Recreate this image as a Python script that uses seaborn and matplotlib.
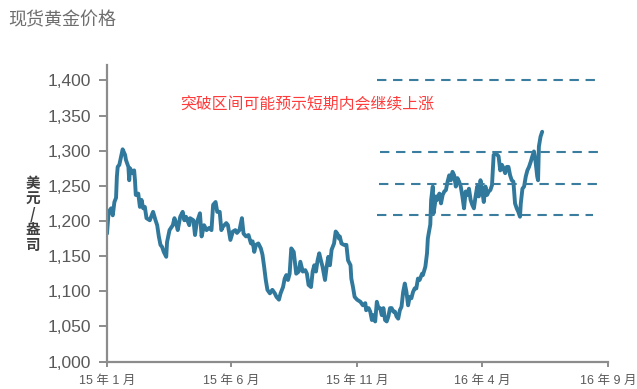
import numpy as np
import pandas as pd
import matplotlib
matplotlib.use("Agg")
import matplotlib.pyplot as plt
import matplotlib.dates as mdates
import seaborn as sns

# Spot gold, USD per ounce; days counted from 2015-01-01
start_date = "2015-01-01"
day_offset = [
    0, 2, 5, 7, 9, 11, 12, 13, 15, 17, 19, 22, 23, 26, 27, 28, 31, 33, 34, 35,
    38, 40, 42, 44, 46, 48, 52, 56, 59, 61, 63, 65, 67, 69, 72, 73, 76, 80, 82, 84,
    86, 89, 92, 94, 96, 100, 101, 105, 107, 109, 113, 115, 118, 121, 124, 127, 129, 132, 134, 137,
    139, 141, 145, 147, 150, 153, 156, 158, 161, 164, 166, 169, 172, 175, 177, 179, 181, 184, 187, 189,
    191, 193, 195, 198, 201, 204, 206, 209, 211, 214, 216, 218, 220, 222, 224, 227, 230, 233, 235, 238,
    241, 243, 245, 248, 250, 252, 254, 256, 258, 260, 262, 265, 267, 269, 271, 273, 276, 278, 280, 282,
    283, 285, 288, 291, 293, 296, 297, 299, 301, 304, 308, 311, 314, 315, 318, 320, 322, 324, 326, 328,
    330, 332, 334, 336, 338, 340, 342, 344, 346, 348, 350, 352, 354, 356, 358, 360, 362, 364, 366, 368,
    370, 372, 374, 376, 378, 380, 383, 384, 387, 389, 390, 391, 393, 394, 396, 397, 400, 401, 404, 406,
    408, 410, 412, 414, 416, 418, 420, 422, 424, 426, 428, 430, 432, 434, 436, 438, 440, 442, 444, 446,
    448, 450, 452, 454, 456, 458, 460, 462, 464, 466, 468, 470, 473, 476, 478, 480, 482, 484, 486, 488,
    490, 492, 494, 496, 498, 500, 502, 503, 505, 507, 509, 511, 513, 515, 517, 519, 521, 523, 524, 525,
    527, 529,
]
gold_price = [
    1182, 1213, 1218, 1208, 1227, 1233, 1263, 1277, 1280, 1291, 1302, 1294, 1287, 1277, 1258, 1275, 1268, 1272, 1258, 1237,
    1239, 1220, 1230, 1218, 1220, 1204, 1201, 1213, 1201, 1194, 1178, 1166, 1163, 1156, 1149, 1170, 1187, 1194, 1204, 1197,
    1187, 1206, 1213, 1201, 1206, 1194, 1204, 1201, 1180, 1197, 1211, 1178, 1194, 1187, 1190, 1187, 1223, 1227, 1213, 1213,
    1187, 1192, 1197, 1194, 1173, 1185, 1187, 1183, 1187, 1204, 1182, 1178, 1180, 1168, 1171, 1156, 1166, 1168, 1161, 1152,
    1135, 1116, 1102, 1097, 1102, 1097, 1092, 1088, 1097, 1106, 1118, 1123, 1116, 1125, 1161, 1156, 1125, 1128, 1142, 1128,
    1130, 1125, 1109, 1106, 1128, 1137, 1128, 1144, 1154, 1144, 1135, 1116, 1135, 1149, 1137, 1159, 1168, 1185, 1182, 1175,
    1178, 1168, 1166, 1166, 1144, 1137, 1118, 1106, 1092, 1088, 1085, 1080, 1083, 1073, 1076, 1071, 1059, 1066, 1057, 1085,
    1076, 1076, 1066, 1076, 1059, 1057, 1064, 1076, 1076, 1071, 1071, 1064, 1061, 1073, 1078, 1099, 1111, 1099, 1080, 1092,
    1090, 1099, 1104, 1104, 1118, 1116, 1125, 1123, 1135, 1154, 1175, 1182, 1195, 1230, 1249, 1211, 1235, 1230, 1239, 1225,
    1237, 1242, 1244, 1256, 1265, 1258, 1270, 1265, 1249, 1261, 1256, 1249, 1235, 1218, 1242, 1237, 1246, 1230, 1223, 1218,
    1235, 1249, 1235, 1258, 1244, 1227, 1249, 1237, 1242, 1244, 1251, 1294, 1296, 1292, 1272, 1280, 1275, 1268, 1277, 1277,
    1265, 1258, 1256, 1225, 1218, 1213, 1206, 1225, 1246, 1249, 1263, 1272, 1277, 1284, 1292, 1299, 1284, 1263, 1258, 1306,
    1320, 1327,
]

# Reference levels of the trading range
level_values = [1400, 1298, 1252, 1209]
level_starts = ["2015-11-25", "2015-11-29", "2015-11-28", "2015-11-25"]
level_ends = ["2016-08-19", "2016-08-21", "2016-08-19", "2016-08-14"]

tick_dates = ["2015-01-01", "2015-06-01", "2015-11-01", "2016-04-01", "2016-09-01"]
tick_labels = ["15 年 1 月", "15 年 6 月", "15 年 11 月", "16 年 4 月", "16 年 9 月"]
y_ticks = [1000, 1050, 1100, 1150, 1200, 1250, 1300, 1350, 1400]

title_text = "现货黄金价格"
unit_text = "美元/盎司"
note_text = "突破区间可能预示短期内会继续上涨"

sns.set_theme(style="white")
plt.rcParams["font.family"] = ["Liberation Sans", "Noto Sans CJK SC", "DejaVu Sans"]

df = pd.DataFrame({
    "date": pd.Timestamp(start_date) + pd.to_timedelta(day_offset, unit="D"),
    "price": gold_price,
})

line_color = "#31799c"
fig = plt.figure(figsize=(6.37, 3.89), dpi=100)
ax = fig.add_axes([107 / 637, 1 - 361.5 / 389, 501 / 637, (361.5 - 65) / 389])

sns.lineplot(data=df, x="date", y="price", ax=ax, color=line_color, linewidth=2.8)

for val, s, e in zip(level_values, level_starts, level_ends):
    ax.plot([pd.Timestamp(s), pd.Timestamp(e)], [val, val], color="#3a7d9e",
            linewidth=1.5, linestyle=(0, (4.5, 3.2)))

ax.set_xlim(pd.Timestamp(tick_dates[0]), pd.Timestamp(tick_dates[-1]))
ax.set_ylim(1000, 1422)
ax.set_xticks([pd.Timestamp(t) for t in tick_dates])
ax.set_xticklabels(tick_labels, fontsize=9, color="#595959")
ax.set_yticks(y_ticks)
ax.set_yticklabels([f"{v:,}" for v in y_ticks], fontsize=12.5, color="#595959")
ax.set_xlabel("")
ax.set_ylabel("")

for side in ["top", "right"]:
    ax.spines[side].set_visible(False)
for side in ["left", "bottom"]:
    ax.spines[side].set_color("#8c8c8c")
    ax.spines[side].set_linewidth(1.6)
ax.tick_params(axis="y", length=5.5, width=1.4, color="#8c8c8c", pad=6, left=True)
ax.tick_params(axis="x", length=3.5, width=1.4, color="#8c8c8c", pad=6, bottom=True)

ax.text(pd.Timestamp("2015-03-31"), 1365, note_text, color="#ff3b3b", fontsize=11.4,
        ha="left", va="center", family=["Noto Sans CJK SC", "DejaVu Sans"])

fig.text(8 / 637, 1 - 20 / 389, title_text, fontsize=13, color="#6e6e6e",
         ha="left", va="center", family=["Noto Sans CJK SC", "DejaVu Sans"])
fig.text(33 / 637, 1 - 214 / 389, "\n".join(unit_text), fontsize=10.5, color="#404040",
         ha="center", va="center", linespacing=0.95, fontweight="bold",
         family=["Noto Sans CJK SC", "DejaVu Sans"])

fig.savefig("out.png", dpi=100)
